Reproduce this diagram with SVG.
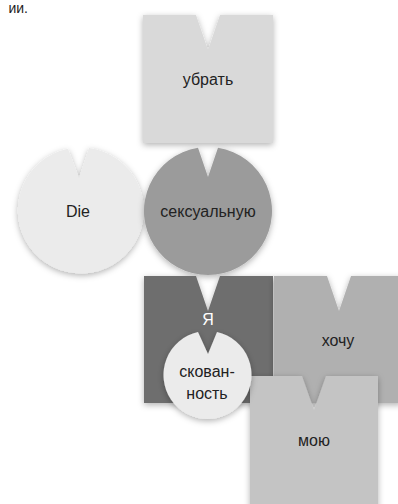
<svg xmlns="http://www.w3.org/2000/svg" width="398" height="504" viewBox="0 0 398 504">
<defs>
<filter id="sh" x="-20%" y="-20%" width="140%" height="140%">
<feDropShadow dx="0" dy="2" stdDeviation="3" flood-color="#000" flood-opacity="0.3"/>
</filter>
<style>
.n{filter:url(#sh)}
.t{font-family:"Liberation Sans",Arial,sans-serif;font-size:16px;fill:#222;text-anchor:middle}
.w{fill:#fff}
</style>
</defs>
<rect width="398" height="504" fill="#fff"/>
<text class="t" x="28" y="13" style="text-anchor:end;font-size:14px">ии.</text>
<g id="connectors"></g>
<g id="node-ubrat">
<path class="n" fill="#d9d9d9" d="M143,15 H196 L208,50 L220,15 H273 V143 H143 Z"/>
<text class="t" x="208" y="85">убрать</text>
</g>
<g id="node-die">
<path class="n" fill="#ebebeb" d="M68,148.8 A63,63 0 1 0 89,148 L79,178 Z"/>
<text class="t" x="78" y="217">Die</text>
</g>
<g id="node-seksualnuyu">
<path class="n" fill="#9b9b9b" d="M198,147.8 A64,64 0 1 0 218,147.8 L208,177 Z"/>
<text class="t" x="208" y="217">сексуальную</text>
</g>
<g id="node-ya">
<path class="n" fill="#6e6e6e" d="M144,276 H196 L208,311 L220,276 H273 V403 H144 Z"/>
<text class="t w" x="208" y="325">Я</text>
</g>
<g id="node-hochu">
<path class="n" fill="#b0b0b0" d="M274,276 H327 L339,311 L351,276 H402 V403 H274 Z"/>
<text class="t" x="338" y="346">хочу</text>
</g>
<g id="node-moyu">
<path class="n" fill="#c4c4c4" d="M250,376 H302 L314,410 L326,376 H378 V520 H250 Z"/>
<text class="t" x="314" y="446">мою</text>
</g>
<g id="node-skovannost">
<path class="n" fill="#ebebeb" d="M198,332 A44,44 0 1 0 217,332 L208,354 Z"/>
<text class="t" x="207" y="377">скован-</text>
<text class="t" x="207" y="399">ность</text>
</g>
</svg>
